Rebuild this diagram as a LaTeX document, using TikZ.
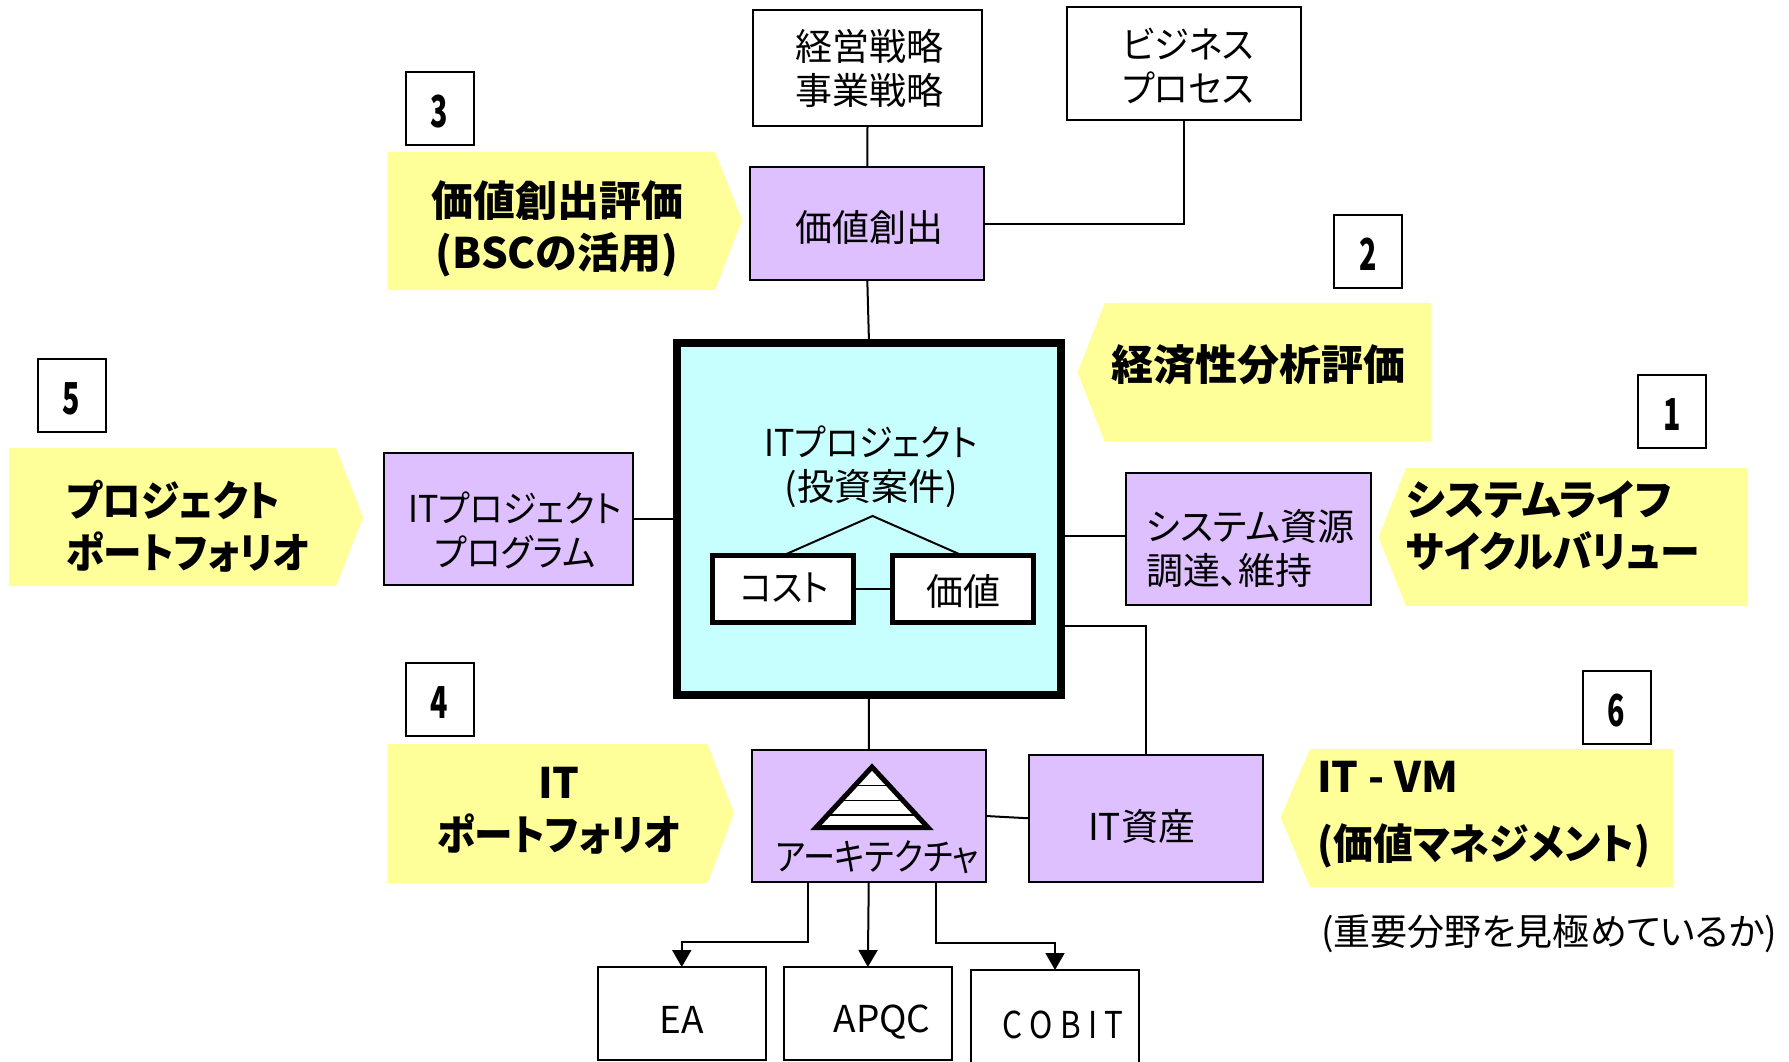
\documentclass[tikz,border=0pt]{standalone}
\usepackage{fontspec}
\usepackage{amsmath}
\usetikzlibrary{arrows.meta}
\newfontfamily\jpfont[RawFeature=+palt]{Noto Sans CJK JP}
\newfontfamily\jpsnug[RawFeature=+palt, FakeStretch=0.95]{Noto Sans CJK JP}
\newfontfamily\jpnarrow[RawFeature=+palt, FakeStretch=0.92]{Noto Sans CJK JP}
\newfontfamily\numfont[FakeStretch=0.65]{Noto Sans CJK JP}
\definecolor{bannerYellow}{rgb}{1.0, 1.0, 0.6}
\definecolor{fancyViolet}{rgb}{0.87, 0.75, 1.0}
\definecolor{coreCyan}{rgb}{0.78, 1.0, 1.0}
\tikzset{
  plainbox/.style={draw, fill=white, line width=2pt, inner sep=0pt, outer sep=0pt, align=center,
    font=\jpfont\fontsize{37}{44}\selectfont},
  violetbox/.style={plainbox, fill=fancyViolet},
  boxtext/.style={plainbox, draw=none, fill=none},
  pairbox/.style={plainbox, line width=5pt, minimum width=141pt, minimum height=67pt},
  numbox/.style={plainbox, minimum width=68pt, minimum height=73pt, text height=38.8pt, text depth=0pt,
    font=\numfont\bfseries\fontsize{44}{44}\selectfont},
  bannertext/.style={inner sep=0pt, font=\jpfont\bfseries\fontsize{42}{52}\selectfont},
  link/.style={line width=2pt},
  flow/.style={line width=2pt, -{Triangle[length=17pt,width=19pt]}}
}
\begin{document}
\begin{tikzpicture}[x=1pt, y=-1pt]
        \useasboundingbox (0,0) rectangle (1789,1061);

        % yellow banners
        \fill[bannerYellow] (388,151.5) -- (715,151.5) -- (742,220) -- (715,290) -- (388,290) -- cycle;
        \fill[bannerYellow] (1431,303) -- (1104.5,303) -- (1077.5,372.5) -- (1104.5,441.5) -- (1431,441.5) -- cycle;
        \fill[bannerYellow] (1748,468) -- (1406,468) -- (1378.5,537) -- (1406,606) -- (1748,606) -- cycle;
        \fill[bannerYellow] (9,448) -- (336,448) -- (363,517) -- (336,586) -- (9,586) -- cycle;
        \fill[bannerYellow] (388,744) -- (707.5,744) -- (734,813) -- (707.5,883) -- (388,883) -- cycle;
        \fill[bannerYellow] (1673,749) -- (1310,749) -- (1280.5,817.5) -- (1310,887) -- (1673,887) -- cycle;

        \node[bannertext, align=center] (bannerThree) at (557,229) {価値創出評価\\(BSCの活用)};
        \node[bannertext] (bannerTwo) at (1258,365) {経済性分析評価};
        \node[bannertext, align=left, anchor=west] (bannerOne) at (1406,525.5) {システムライフ\\{\jpsnug サイクルバリュー}};
        \node[bannertext, align=left, anchor=west] (bannerFive) at (66,526) {{\jpnarrow プロジェクト}\\{\jpnarrow ポートフォリオ}};
        \node[bannertext, align=center] (bannerFour) at (559,810.5) {IT\\{\jpnarrow ポートフォリオ}};
        \node[bannertext, align=left, anchor=west, font=\jpfont\bfseries\fontsize{42}{67}\selectfont] (bannerSix) at (1317,814.7) {IT - VM\\{\jpsnug (価値マネジメント)}};

        % numbers
        \node[numbox] (numOne) at (1672,411.5) {1};
        \node[numbox] (numTwo) at (1368,251.5) {2};
        \node[numbox] (numThree) at (439.5,108) {3};
        \node[numbox] (numFour) at (439.5,699.5) {4};
        \node[numbox] (numFive) at (71.5,395.5) {5};
        \node[numbox] (numSix) at (1616.5,707.5) {6};

        % top row
        \node[plainbox, minimum width=229pt, minimum height=116pt] (strategy) at (867.5,68) {};
        \node[boxtext] (strategyText) at (869,68) {経営戦略\\事業戦略};
        \node[plainbox, minimum width=234pt, minimum height=113pt] (process) at (1183.8,63.5) {};
        \node[boxtext] (processText) at (1188,65.6) {{\jpsnug ビジネス}\\{\jpsnug プロセス}};
        \node[violetbox, minimum width=234pt, minimum height=113pt] (create) at (867.3,223.5) {};
        \node[boxtext] (createText) at (869,227) {価値創出};

        % side boxes
        \node[violetbox, minimum width=249pt, minimum height=132pt] (program) at (508,519) {};
        \node[boxtext] (programText) at (515,530) {{\jpnarrow ITプロジェクト}\\{\jpsnug プログラム}};
        \node[violetbox, minimum width=245pt, minimum height=132pt] (resource) at (1248.3,539) {};
        \node[boxtext, align=left, anchor=west] (resourceText) at (1146,549) {システム資源\\調達、維持};

        % central project
        \node[plainbox, fill=coreCyan, line width=7.5pt, minimum width=384pt, minimum height=352pt] (core) at (869,519) {};
        \node[boxtext] (coreText) at (871,467) {{\jpnarrow ITプロジェクト}\\(投資案件)};
        \node[pairbox] (cost) at (783,589) {};
        \node[boxtext] (costText) at (784.6,588) {{\jpnarrow コスト}};
        \node[pairbox] (value) at (962.5,589) {};
        \node[boxtext] (valueText) at (963.5,591) {価値};
        \coordinate (roof) at (872.6,516);
        \draw[link] (cost.north) -- (roof) -- (value.north);
        \draw[link] (cost.east) -- (value.west);

        % lower boxes
        \node[violetbox, minimum width=234.5pt, minimum height=132pt] (arch) at (868.75,816) {};
        \node[boxtext] (archText) at (877,857) {\scalebox{0.87}[1]{アーキテクチャ}};
        \node[violetbox, minimum width=234.5pt, minimum height=127pt] (asset) at (1146.2,818.3) {};
        \node[boxtext] (assetText) at (1141.6,826.3) {IT資産};

        % pyramid
        \draw[line width=5pt, fill=white] (872,767) -- (928,827.5) -- (816,827.5) -- cycle;
        \draw[line width=1.5pt] (854.7,785.7) -- (889.3,785.7);
        \draw[line width=1.5pt] (840.8,800.7) -- (903.2,800.7);
        \draw[line width=1.5pt] (827.6,815) -- (916.4,815);

        % bottom row
        \node[plainbox, minimum width=168.5pt, minimum height=93pt] (ea) at (681.75,1013.5) {};
        \node[boxtext] (eaText) at (681.75,1020) {EA};
        \node[plainbox, minimum width=168.5pt, minimum height=93pt] (apqc) at (867.85,1013.5) {};
        \node[boxtext] (apqcText) at (882,1022) {APQC};
        \node[plainbox, minimum width=168pt, minimum height=130pt] (cobit) at (1055,1035) {};
        \node[boxtext] (cobitText) at (1063,1025) {\scalebox{0.85}[1]{C O B I T}};

        % note
        \node[boxtext] (note) at (1549,934) {(重要分野を見極めているか)};

        % links
        \coordinate (resourceIn) at (1125.7,535.5);
        \coordinate (coreOut) at (1064,626);
        \coordinate (archLeft) at (808,882);
        \coordinate (archRight) at (936,882);
        \draw[link] (strategy.south) -- (create.north);
        \draw[link] (create.south) -- (core.north);
        \draw[link] (create.east) -| (process.south);
        \draw[link] (program.east) -- (core.west |- program.east);
        \draw[link] (core.east |- resourceIn) -- (resourceIn);
        \draw[link] (coreOut) -| (asset.north);
        \draw[link] (core.south) -- (arch.north);
        \draw[link] (arch.east) -- (asset.west);
        \draw[flow] (archLeft) -- ++(0,60) -| (ea.north);
        \draw[flow] (arch.south) -- (apqc.north);
        \draw[flow] (archRight) -- ++(0,61) -| (cobit.north);

    \end{tikzpicture}
\end{document}
